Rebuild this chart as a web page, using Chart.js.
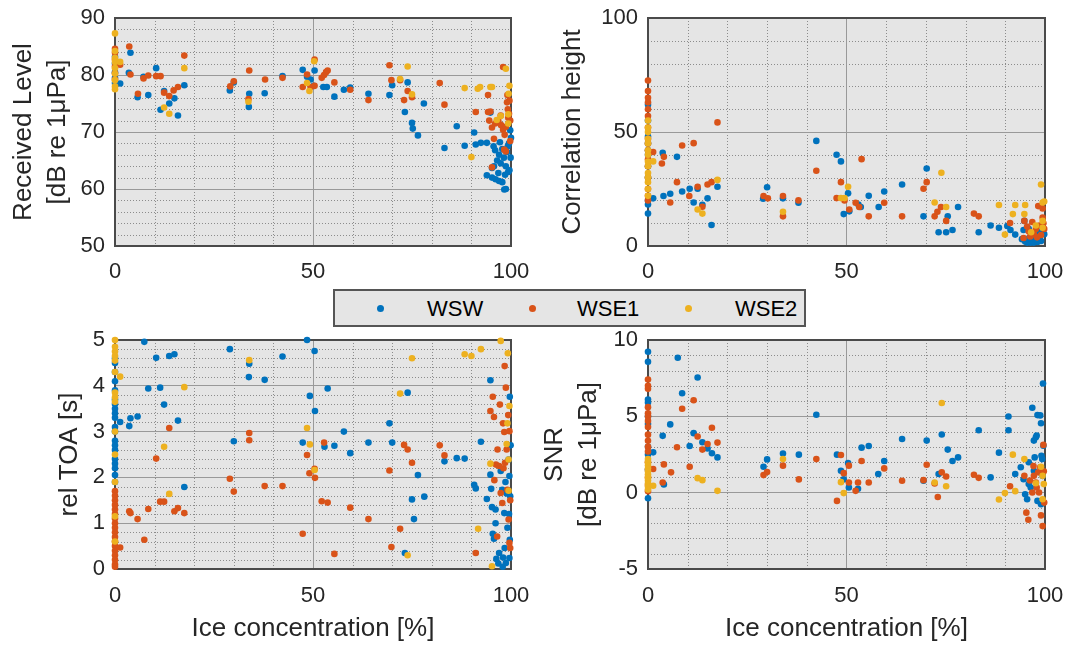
<!DOCTYPE html>
<html>
<head>
<meta charset="utf-8">
<script src="https://cdn.jsdelivr.net/npm/chart.js@4.4.1/dist/chart.umd.min.js"></script>
<style>
  body { margin: 0; background: #fff; width: 1067px; height: 646px; overflow: hidden; position: relative;
         font-family: "Liberation Sans", Arial, sans-serif; }
  canvas { position: absolute; }
  #legend { position: absolute; left: 333px; top: 289px; width: 473px; height: 38px; box-sizing: border-box;
            border: 2px solid #555; background: #e5e5e5; }
  #legend .dot { position: absolute; top: 13.5px; width: 7px; height: 7px; border-radius: 50%; }
  #legend .lab { position: absolute; top: 7px; font-size: 22px; line-height: 22px; color: #000; }
</style>
</head>
<body>
<canvas id="rl"></canvas>
<canvas id="ch"></canvas>
<canvas id="toa"></canvas>
<canvas id="snr"></canvas>
<div id="legend">
  <span class="dot" style="left:41.5px;background:#0072BD"></span><span class="lab" style="left:92px">WSW</span>
  <span class="dot" style="left:193.5px;background:#D95319"></span><span class="lab" style="left:242px">WSE1</span>
  <span class="dot" style="left:349.5px;background:#EDB120"></span><span class="lab" style="left:400px">WSE2</span>
</div>
<script>
/* ================= DATA ([ice %, value]) ================= */

const seriesNames = ['WSW', 'WSE1', 'WSE2'];
const seriesColors = ['#0072BD', '#D95319', '#EDB120'];

// Received level [dB re 1uPa]
const rlWsw = [[0,78.6],[0,80.5],[0,82.0],[0,83.2],[0,79.5],[1.3,78.5],[3.9,83.9],[3.5,80.4],[5.7,76.1],[7.2,79.7],[8.4,76.5],[10.4,81.2],[11.5,73.9],[12.4,77.2],[13.7,75.0],[15,75.9],[15.9,72.9],[17.5,78.2],[29,77.3],[30,78.7],[33.9,76.7],[33.8,74.4],[37.8,76.8],[42.3,79.8],[47.4,80.9],[48.5,79.7],[49.4,79.2],[50.4,80.8],[50.2,78.1],[52.6,77.9],[53.5,77.9],[55.4,76.2],[57.8,77.4],[59.4,77.8],[64,76.7],[69.3,76.5],[70,78.2],[73.9,78.7],[73.2,73.5],[75,71.6],[75.2,70.6],[76.5,69.4],[78,75],[83.2,67.2],[86.3,71],[88.3,67.6],[90.7,69.9],[91.1,67.8],[92.4,68.1],[93.9,68.1],[93.9,62.4],[95.2,62],[96.1,61.7],[97,61.4],[97.8,61.2],[98.3,59.9],[98.7,60],[94.8,73.4],[95.2,63.7],[95.7,64],[96.5,65],[97,66],[97.4,64.5],[97.8,67],[98.2,65.5],[98.7,64],[99,66.5],[99.3,63],[99.6,63.3],[99.5,68],[99.8,70.3],[100,69],[99.2,67.5],[96,66.8],[95.6,67.5],[98.5,62.5],[99.9,65.5],[97.2,68.2],[96.8,62.8]];
const rlWse1 = [[0,83.9],[0,82.7],[0,81.5],[0,80.3],[0,79.2],[0,84.6],[1.3,81.8],[3.6,85.0],[3.9,80.1],[5.8,76.7],[7.2,79.4],[8.4,79.9],[10.4,79.8],[11.5,79.8],[12.4,76.9],[13.7,76.3],[14.8,77.3],[15.9,77.9],[17.5,83.4],[29.1,78],[30,78.9],[33.9,80.8],[33.7,75.8],[37.9,79.2],[42.3,79.5],[47.4,77.9],[48.5,80.1],[49.4,77.9],[50.4,82.7],[50.4,78.1],[52.2,79.5],[52.8,80],[53.3,80.5],[53.7,80.8],[55.4,78.7],[59.4,77.4],[64,75.6],[69.3,81.7],[69.8,79.1],[72,79.1],[73,75.6],[73.9,77.2],[75,76.1],[82,78.6],[83.2,74.8],[91.1,73.5],[94.2,73.5],[94.8,73.6],[94.5,72],[95.2,70.8],[96,71.5],[96.8,71.9],[97.5,71.2],[98,70.4],[98.4,69.5],[98.7,70.9],[99.3,72.5],[99.2,74],[99.6,75.5],[99,75.2],[99.5,73.2],[94.2,76.5],[98,81.4],[95.2,63.8],[98.7,66.6],[99.8,68.4],[99.8,72],[99.1,76.5],[98.3,66.9],[95.7,68.8],[97.4,72.9]];
const rlWse2 = [[0,87.3],[0,84.2],[0,82.3],[0,81.2],[0,80.2],[0,79.1],[0,77.5],[0,78.0],[0,83.0],[1.3,82.3],[12.4,74.3],[13.7,73.2],[17.5,81.2],[33.7,75.3],[48.5,78.6],[49.1,77.2],[50.3,82.4],[72,79.3],[73.9,81.5],[75,76.6],[88.3,77.7],[90,65.6],[91.6,77.6],[92.2,77.9],[94.8,77.9],[95.2,77.9],[98.7,81.1],[99.6,78.1],[99.4,76.7],[99.3,73.1],[99.3,71.5],[97.4,72.8],[96.4,72.1]];

// Correlation height
const chWsw = [[0,62],[0,55],[0,45],[0,42],[0,40],[0,35],[0,20],[0,18.2],[0,14.2],[0,48],[0,30],[1.3,20.9],[3.7,40.9],[3.9,21.9],[5.6,22.9],[7.3,39.1],[8.6,23.9],[10.5,25.1],[11.5,19.1],[12.5,25.1],[13.7,18.1],[15,20.9],[16,9.2],[17.5,26],[29,20.7],[30,25.8],[34,20.9],[37.9,19],[42.4,46.1],[47.5,40],[48.6,37.1],[49.3,14],[50.4,23.1],[50.7,15.2],[53,18.2],[53.6,17.1],[55.6,22],[58.1,17.1],[59.5,23.9],[64,27],[69.4,13],[70.2,34],[73.2,6],[75.1,6],[75.5,13],[76.7,7],[78.1,17.1],[83.3,6],[86.3,9],[88.4,8],[90.5,8.8],[91.3,7],[92.5,5],[94.2,3],[94.8,11],[94.6,7],[95,2],[95.5,1.5],[96.4,1.5],[97.2,1.5],[98.1,1.8],[99,2.2],[99.4,5.8],[98.1,6.5],[96.8,4.5],[95.9,7.5],[99.8,5.2],[97.5,3],[96,3.5],[98.6,4]];
const chWse1 = [[0,72.6],[0,68],[0,65],[0,63],[0,60],[0,57],[0,52],[0,47],[0,45],[0,42],[0,38],[0,35],[0,30],[0,25],[0,22],[0,20],[1.3,41.2],[3.5,36.2],[4,39.1],[5.6,19.1],[7.3,28],[8.6,44.1],[10.4,21.9],[11.5,45.1],[12.5,26],[13.7,17.2],[15,27],[16,28],[17.5,54.2],[29.1,21.9],[30.2,20.9],[34,21.9],[34,13],[37.9,20],[42.4,33],[47.5,21],[48.6,28],[49.5,20],[50.7,16],[52.3,19],[53.2,17.1],[53.8,38.1],[55.6,13],[59.5,19],[64,13],[69.4,25.1],[70.2,28],[72.2,13],[72.9,15],[73.8,17.1],[75.1,11],[82.1,14.2],[83.3,13],[91.2,10.1],[94.8,11],[94.6,3.5],[95.9,6.5],[96.8,10.5],[97.7,7.5],[98.6,9],[99,4.8],[99.4,12.5],[98.3,17.5],[99.4,16.5],[99.8,7.5],[97.2,5.2],[95.5,8.5],[96.3,4.2],[98,3.8],[99.6,10]];
const chWse2 = [[0,55],[0,52],[0,50],[0,47],[0,45],[0,42],[0,40],[0,37],[0,35],[0,32],[0,30],[0,28],[0,25],[0,22],[1.3,37.1],[12.5,16],[13.7,14.2],[17.5,29],[34,15],[48.6,21],[49.5,21],[50.4,26],[72.2,19.1],[73.9,32.1],[75.1,17.1],[88.4,18],[89.9,5],[91.9,14],[92.5,18],[94.8,14],[95,18],[97.7,9],[99,27],[99.4,19.1],[99.4,11],[99.4,8],[99.8,19.5],[96.5,6]];

// Relative time of arrival [s]
const toaWsw = [[0,4.6],[0,4.3],[0,4.1],[0,3.9],[0,3.7],[0,3.5],[0,3.4],[0,3.3],[0,3.1],[0,3.0],[0,2.8],[0,2.7],[0,2.6],[0,2.4],[0,2.3],[0,2.2],[0,2.05],[0,1.9],[0,4.5],[0,3.6],[1.3,3.21],[3.6,3.12],[3.9,3.29],[5.7,3.33],[7.4,4.96],[8.4,3.94],[10.4,4.61],[11.4,3.96],[12.4,3.59],[13.7,4.65],[15,4.69],[15.9,3.24],[17.5,1.79],[29,4.8],[30,2.79],[33.9,4.48],[33.8,4.19],[37.8,4.13],[42.3,4.64],[47.4,2.76],[48.5,5],[49.2,3.78],[50.4,4.76],[50.5,3.45],[52.9,2.67],[53.7,3.94],[55.4,2.69],[57.8,3],[59.4,2.53],[64,2.76],[69.3,3.18],[70,2.76],[73.2,0.35],[73.9,3.85],[75,1.52],[75.5,1.09],[76.5,2.05],[78.1,1.58],[83.2,2.35],[86.3,2.42],[88.3,2.41],[90.7,1.84],[91.1,1.76],[92.4,2.78],[93.9,1.53],[94.8,4.12],[94.8,2.06],[95,1.75],[95.2,1.35],[95.4,0.77],[95.7,0.66],[96.1,1.3],[96.1,1.0],[96.3,0.22],[97,0.35],[97.4,2.14],[97.8,1.73],[98.3,1.22],[98.4,0.46],[98.7,0.13],[98.9,1.65],[99.1,0.9],[99.4,2.39],[99.6,2.03],[99.7,3.76],[99.7,0.64],[99.6,0.24],[99.8,1.59],[96.8,0.12],[97.9,0.05],[98,0.25],[99.9,2.7],[99.5,1.2],[98.6,1.9]];
const toaWse1 = [[0,1.7],[0,1.6],[0,1.5],[0,1.3],[0,1.2],[0,1.1],[0,1.0],[0,0.9],[0,0.8],[0,0.7],[0,0.5],[0,0.4],[0,0.3],[0,0.2],[0,0.1],[0,0.05],[0,1.4],[0,0.6],[1.3,0.47],[3.6,1.26],[3.9,1.22],[5.7,1.09],[7.4,0.64],[8.4,1.31],[10.4,2.41],[11.4,1.47],[12.4,1.47],[13.7,3.08],[15,1.26],[15.9,1.33],[17.5,1.22],[29,1.97],[30,1.69],[33.9,2.97],[33.9,2.81],[37.8,1.81],[42.3,1.81],[47.4,0.77],[48.5,2.49],[49.1,2.09],[50.4,2.19],[50.5,1.99],[52.2,1.48],[52.8,2.76],[53.7,1.45],[55.4,0.33],[59.4,1.34],[64,1.09],[69.3,2.15],[69.8,0.48],[72,0.88],[73,2.71],[73.9,2.61],[75,2.32],[82,2.7],[83.2,2.48],[91.1,0.35],[95.4,3.76],[94.8,3.45],[95.7,3.32],[95.8,1.94],[96.5,0.71],[96.6,2.61],[97,2.25],[97.2,3.59],[97.4,1.66],[97.8,1.44],[98,3.18],[98.3,2.99],[98.4,4.43],[98.7,3.96],[98.5,2.32],[98.9,2.61],[99.1,1.73],[99.3,3.36],[99.4,1.08],[99.6,3.01],[99.6,0.57],[99.8,1.5],[99.8,0.46],[96.2,2.28],[98.1,2.2]];
const toaWse2 = [[0,5],[0,4.85],[0,4.75],[0,4.65],[0,4.55],[0,4.3],[0,3.85],[0,3.75],[0,3.65],[0,2.5],[0,3.0],[0,1.9],[0,1.15],[0,0.6],[1.3,4.2],[12.4,2.67],[13.7,1.64],[17.5,3.97],[33.9,4.56],[48.5,3.08],[49.2,2.72],[50.4,2.16],[72,3.83],[75,4.6],[73.9,0.3],[88.3,4.69],[90,4.65],[91.7,0.88],[92.4,4.8],[94.8,2.3],[95.2,0.06],[97.4,4.98],[99.2,4.71],[99.6,3.56],[99.1,3.18],[98.9,2.73],[99.4,2.39],[99.4,1.71]];

// SNR [dB re 1uPa]
const snrWsw = [[0,9.23],[0,8.57],[0,6.1],[0,5.9],[0,5.0],[0,4.5],[0,3.0],[0,2.5],[0,1.5],[0,-0.37],[1.3,2.64],[3.7,3.72],[4,0.54],[5.6,4.47],[7.5,8.84],[8.6,6.51],[10.5,3.06],[11.5,3.9],[12.5,7.54],[13.7,3.3],[15,2.89],[16.1,2.58],[17.5,2.31],[29.1,1.7],[30,2.18],[34,2.56],[38,2.49],[42.4,5.1],[47.6,2.49],[48.6,1.44],[49.3,0.87],[50.4,1.94],[50.6,0.34],[52.9,0.25],[53.8,2.95],[55.6,3.06],[58,1.22],[59.5,2.07],[64,3.52],[69.4,0.78],[70.2,3.41],[73.2,1.22],[74,3.81],[75.5,2.82],[76.7,2.07],[78.1,2.31],[83.3,4.09],[86.3,1],[88.4,2.62],[90.8,4.99],[90.8,4.09],[92.5,1.22],[93.9,1.66],[94.6,0.88],[95,-0.1],[95.5,-0.43],[95.9,0.56],[96.4,0.34],[96.8,5.56],[97.2,3.41],[97.4,2.31],[97.7,3.63],[97.9,3.74],[98.1,5.08],[98.8,5.06],[99,4.55],[99.1,2.42],[99.3,2.2],[99.5,7.15],[99.6,3.08],[97.2,1.44],[98.1,-0.54],[99,-0.76],[99.4,1.1],[95.9,1.99]];
const snrWse1 = [[0,7.41],[0,7.0],[0,6.8],[0,5.6],[0,5.2],[0,5.0],[0,4.7],[0,4.3],[0,3.8],[0,3.4],[0,3.0],[0,2.7],[0,2.0],[0,1.5],[0,1.0],[0,0.5],[0,0.1],[1.3,1.55],[4,1.85],[3.7,0.67],[5.8,1.33],[7.3,2.97],[8.6,5.5],[10.5,1.7],[11.5,6.05],[12.5,3.68],[13.7,2.82],[15,3.19],[16.1,4.25],[17.5,3.28],[29.1,1.15],[30,1.35],[34,1.77],[38,0.87],[42.4,2.2],[47.6,-0.54],[48.6,2.47],[49.3,1.28],[50.6,1.77],[50.6,0.67],[52.3,0.12],[52.9,0.67],[53.8,2.07],[55.6,0.67],[59.5,1.59],[64,0.78],[69.4,0.82],[70.2,1.83],[72.2,0.6],[73,-0.28],[74,1.33],[75.1,1.06],[82.1,1.17],[83.3,0.97],[91.2,0.42],[94.8,1.1],[95.3,-1.31],[95.8,-1.77],[97.1,1.74],[97.2,1.1],[97.9,0.34],[98.3,1.33],[98.5,0.01],[99,-1.49],[99.4,-2.19],[99.6,3.13],[99.8,-0.65],[96.8,0.01],[97.7,0.67],[98.8,1.66],[96.2,0.8],[99.7,1.4]];
const snrWse2 = [[0,2.2],[0,2.0],[0,1.8],[0,1.6],[0,1.4],[0,1.2],[0,1.0],[0,0.8],[0,0.6],[0,0.4],[0,0.2],[1.3,0.45],[12.5,0.95],[13.7,0.82],[17.5,0.12],[34,2.2],[48.6,0.69],[49.3,-0.03],[72.2,0.67],[74,5.87],[75.1,0.42],[88.4,-0.45],[89.9,-0.03],[91.9,2.49],[92.5,0.1],[94.8,2.2],[97.7,0.62],[99,1.7],[99.4,-0.43],[99.7,0.56],[99.4,1.1]];

// tick labels
const iceTicks = [0, 50, 100];
const rlTicks = [50, 60, 70, 80, 90];
const chTicks = [0, 50, 100];
const toaTicks = [0, 1, 2, 3, 4, 5];
const snrTicks = [-5, 0, 5, 10];

/* ================= HELPERS ================= */

const FONT = '"Liberation Sans", Arial, sans-serif';
Chart.defaults.font.family = FONT;
Chart.defaults.color = '#262626';

function steps(min, max, step) {
  const out = [];
  for (let v = min; v <= max + 1e-9; v += step) out.push(+v.toFixed(4));
  return out;
}

// background, dotted minor grid and box frame (MATLAB look)
function axesDeco(xMinor, yMinor, xMajor, yMajor) {
  return {
    id: 'axesDeco',
    beforeDraw(chart) {
      const { ctx, chartArea: a, scales: { x, y } } = chart;
      ctx.save();
      ctx.fillStyle = '#e5e5e5';
      ctx.fillRect(a.left, a.top, a.right - a.left, a.bottom - a.top);
      ctx.strokeStyle = '#8c8c8c';
      ctx.lineWidth = 1;
      ctx.setLineDash([1, 2]);
      ctx.beginPath();
      xMinor.forEach(v => {
        if (xMajor.includes(v)) return;
        const px = Math.round(x.getPixelForValue(v)) + 0.5;
        ctx.moveTo(px, a.top); ctx.lineTo(px, a.bottom);
      });
      yMinor.forEach(v => {
        if (yMajor.includes(v)) return;
        const py = Math.round(y.getPixelForValue(v)) + 0.5;
        ctx.moveTo(a.left, py); ctx.lineTo(a.right, py);
      });
      ctx.stroke();
      ctx.restore();
    },
    beforeDatasetsDraw(chart) {
      const { ctx, chartArea: a } = chart;
      ctx.save();
      ctx.strokeStyle = '#4a4a4a';
      ctx.lineWidth = 2;
      ctx.strokeRect(a.left, a.top, a.right - a.left, a.bottom - a.top);
      ctx.restore();
    }
  };
}

function makePanel(id, p) {
  const c = document.getElementById(id);
  c.width = p.box.w; c.height = p.box.h;
  c.style.left = p.box.left + 'px';
  c.style.top = p.box.top + 'px';
  const yW = p.area.l - p.box.left;
  const xH = p.box.top + p.box.h - p.area.b;

  return new Chart(c, {
    type: 'scatter',
    data: {
      datasets: p.series.map((s, i) => ({
        label: seriesNames[i],
        data: s.map(([x, y]) => ({ x, y })),
        backgroundColor: seriesColors[i],
        borderColor: seriesColors[i],
        borderWidth: 0,
        pointRadius: 3.3,
        pointHoverRadius: 3.3,
        clip: false,
        order: 3 - i
      }))
    },
    options: {
      responsive: false,
      animation: false,
      events: [],
      layout: { padding: { left: 0, top: p.area.t - p.box.top, right: p.box.left + p.box.w - p.area.r, bottom: 0 } },
      plugins: { legend: { display: false }, tooltip: { enabled: false } },
      scales: {
        x: {
          type: 'linear', min: 0, max: 100,
          afterBuildTicks: s => { s.ticks = iceTicks.map(v => ({ value: v })); },
          // fixed axis size, no extra label padding -> exact plot box
          afterFit: s => { s.height = xH; s.paddingLeft = 0; s.paddingRight = 0; },
          grid: { drawTicks: false, color: '#999999', lineWidth: 1 },
          border: { display: false },
          ticks: { font: { size: 22 }, padding: p.xPad, autoSkip: false, maxRotation: 0, callback: v => String(v) },
          title: p.xTitle ? {
            display: true, text: p.xTitle, font: { size: 26, lineHeight: '32px' },
            padding: { top: 0, bottom: 1 }
          } : { display: false }
        },
        y: {
          type: 'linear', min: p.yMin, max: p.yMax,
          afterBuildTicks: s => { s.ticks = p.yTicks.map(v => ({ value: v })); },
          afterFit: s => { s.width = yW; s.paddingTop = 0; s.paddingBottom = 0; },
          grid: { drawTicks: false, color: '#999999', lineWidth: 1 },
          border: { display: false },
          ticks: { font: { size: 22 }, padding: 10, autoSkip: false, callback: v => String(v) },
          title: { display: true, text: p.yTitle, font: { size: 26, lineHeight: '34px' }, padding: { top: p.yTitlePad, bottom: 0 } }
        }
      }
    },
    plugins: [axesDeco(steps(0, 100, 10), steps(p.yMin, p.yMax, p.yMinor), iceTicks, p.yTicks)]
  });
}

/* ================= PANELS ================= */

makePanel('rl', {
  box: { left: 0, top: 0, w: 535, h: 290 }, area: { l: 115, t: 18, r: 511, b: 246 },
  series: [rlWsw, rlWse1, rlWse2], yMin: 50, yMax: 90, yTicks: rlTicks, yMinor: 2,
  yTitle: ['Received Level', '[dB re 1μPa]'], yTitlePad: 7, xPad: 13
});

makePanel('ch', {
  box: { left: 530, top: 0, w: 537, h: 290 }, area: { l: 648, t: 18, r: 1045, b: 246 },
  series: [chWsw, chWse1, chWse2], yMin: 0, yMax: 100, yTicks: chTicks, yMinor: 10,
  yTitle: 'Correlation height', yTitlePad: 26, xPad: 13
});

makePanel('toa', {
  box: { left: 0, top: 300, w: 535, h: 346 }, area: { l: 115, t: 340, r: 511, b: 569 },
  series: [toaWsw, toaWse1, toaWse2], yMin: 0, yMax: 5, yTicks: toaTicks, yMinor: 0.2,
  yTitle: 'rel TOA [s]', yTitlePad: 53, xPad: 14, xTitle: 'Ice concentration [%]'
});

makePanel('snr', {
  box: { left: 530, top: 300, w: 537, h: 346 }, area: { l: 648, t: 340, r: 1045, b: 569 },
  series: [snrWsw, snrWse1, snrWse2], yMin: -5, yMax: 10, yTicks: snrTicks, yMinor: 1,
  yTitle: ['SNR', '[dB re 1μPa]'], yTitlePad: 8, xPad: 14, xTitle: 'Ice concentration [%]'
});
</script>
</body>
</html>
